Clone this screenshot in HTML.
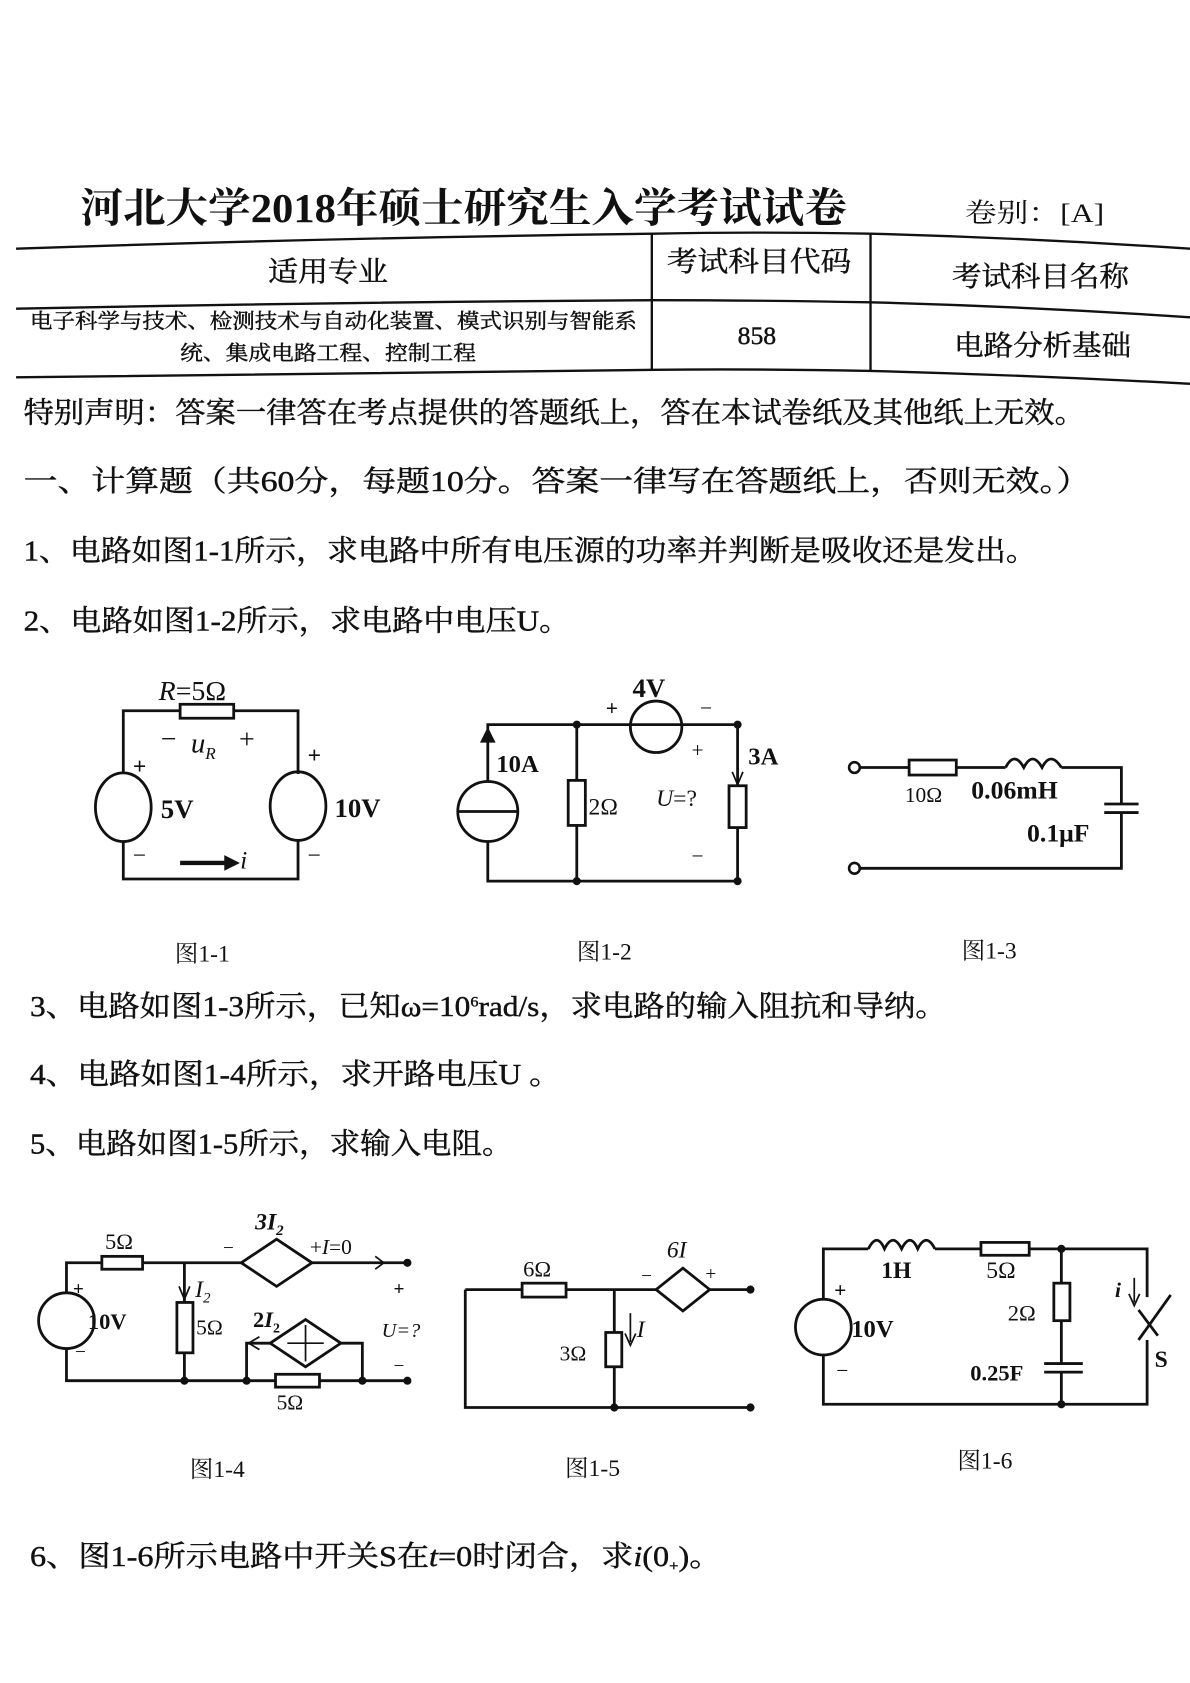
<!DOCTYPE html>
<html><head><meta charset="utf-8"><style>
html,body{margin:0;padding:0;background:#fff;}
svg{display:block;}
text{font-family:"Liberation Serif","Noto Serif CJK SC",serif;fill:#111;}
.b{font-weight:bold;}
.t{stroke:#111;stroke-width:0.4;}
</style></head><body>
<svg width="1190" height="1683" viewBox="0 0 1110 1570" preserveAspectRatio="none" xmlns="http://www.w3.org/2000/svg">
<rect width="1110" height="1570" fill="#fff"/>
<g stroke="#111" fill="none" stroke-width="2.2">
<path d="M15 232 Q300 222 610 218 Q700 216 812 218 Q960 222 1110 232"/>
<path d="M15 288 Q300 282 610 280 Q700 280 812 282 Q960 286 1110 296"/>
<path d="M15 352 Q300 348 610 345 Q700 344 812 346 Q960 350 1110 358"/>
<line x1="608" y1="218" x2="608" y2="346"/>
<line x1="812" y1="218" x2="812" y2="346"/>
</g>
<text x="75" y="207" font-size="38" class="b" textLength="715" lengthAdjust="spacingAndGlyphs">河北大学2018年硕士研究生入学考试试卷</text>
<text x="900" y="207" font-size="25" textLength="130" lengthAdjust="spacingAndGlyphs">卷别：[A]</text>
<text x="250" y="262" font-size="26" class="t" textLength="112" lengthAdjust="spacingAndGlyphs">适用专业</text>
<text x="622" y="253" font-size="26" class="t" textLength="172" lengthAdjust="spacingAndGlyphs">考试科目代码</text>
<text x="888" y="267" font-size="26" class="t" textLength="165" lengthAdjust="spacingAndGlyphs">考试科目名称</text>
<text x="28" y="306" font-size="19" class="t" textLength="566" lengthAdjust="spacingAndGlyphs">电子科学与技术、检测技术与自动化装置、模式识别与智能系</text>
<text x="168" y="336" font-size="19" class="t" textLength="276" lengthAdjust="spacingAndGlyphs">统、集成电路工程、控制工程</text>
<text x="688" y="321" font-size="24" class="t">858</text>
<text x="890" y="331" font-size="26" class="t" textLength="165" lengthAdjust="spacingAndGlyphs">电路分析基础</text>

<text x="22" y="394" font-size="27" class="t" textLength="990" lengthAdjust="spacingAndGlyphs">特别声明：答案一律答在考点提供的答题纸上，答在本试卷纸及其他纸上无效。</text>
<text x="22" y="458" font-size="27" class="t" textLength="995" lengthAdjust="spacingAndGlyphs">一、计算题（共60分，每题10分。答案一律写在答题纸上，否则无效。）</text>
<text x="22" y="523" font-size="27" class="t" textLength="945" lengthAdjust="spacingAndGlyphs">1、电路如图1-1所示，求电路中所有电压源的功率并判断是吸收还是发出。</text>
<text x="22" y="588" font-size="27" class="t" textLength="510" lengthAdjust="spacingAndGlyphs">2、电路如图1-2所示，求电路中电压U。</text>
<text x="28" y="948" font-size="27" class="t" textLength="855" lengthAdjust="spacingAndGlyphs">3、电路如图1-3所示，已知ω=10<tspan dy="-9" font-size="14">6</tspan><tspan dy="9">rad/s，求电路的输入阻抗和导纳。</tspan></text>
<text x="28" y="1011" font-size="27" class="t" textLength="495" lengthAdjust="spacingAndGlyphs">4、电路如图1-4所示，求开路电压U 。</text>
<text x="28" y="1076" font-size="27" class="t" textLength="450" lengthAdjust="spacingAndGlyphs">5、电路如图1-5所示，求输入电阻。</text>
<text x="28" y="1461" font-size="27" class="t" textLength="645" lengthAdjust="spacingAndGlyphs">6、图1-6所示电路中开关S在<tspan font-style="italic">t</tspan>=0时闭合，求<tspan font-style="italic">i</tspan>(0<tspan font-size="14" dy="4">+</tspan><tspan dy="-4">)。</tspan></text>

<text x="163" y="897" font-size="22">图1-1</text>
<text x="538" y="895" font-size="22">图1-2</text>
<text x="897" y="894" font-size="22">图1-3</text>
<text x="177" y="1378" font-size="22">图1-4</text>
<text x="527" y="1377" font-size="22">图1-5</text>
<text x="893" y="1370" font-size="22">图1-6</text>

<g stroke="#111" fill="none" stroke-width="2.6">
<path d="M115 722 V663 H168 M218 663 H278 V722 M278 785 V820 H115 V785"/>
<rect x="168" y="657" width="50" height="13" fill="#fff"/>
<ellipse cx="115" cy="753" rx="26" ry="32"/>
<ellipse cx="278" cy="752" rx="26" ry="32"/>
<line x1="168" y1="805" x2="210" y2="805" stroke-width="4"/>
<path d="M455 730 V676 H588 M636 676 H688 V733 M688 772 V822 H455 V785 M538 676 V728 M538 770 V822"/>
<circle cx="455" cy="757" r="28"/>
<line x1="427" y1="757" x2="483" y2="757"/>
<circle cx="612" cy="678" r="24"/>
<line x1="588" y1="676" x2="636" y2="676"/>
<rect x="530" y="728" width="16" height="42" fill="#fff"/>
<rect x="680" y="733" width="16" height="39" fill="#fff"/>
<line x1="455" y1="720" x2="455" y2="690" stroke-width="1.5"/>
<path d="M802 716 H848 M892 716 H938 M990 716 H1046 V750 M1046 757 V810 H802"/>
<rect x="848" y="709" width="44" height="14" fill="#fff"/>
<path d="M938 716 q8 -16 17 0 q8 -16 17 0 q8 -16 18 0"/>
<line x1="1030" y1="750" x2="1062" y2="750"/>
<line x1="1030" y1="758" x2="1062" y2="758"/>
<path d="M62 1206 V1178 H95 M133 1178 H225 M291 1178 H380 M62 1258 V1288 H257 M298 1288 H380 M172 1178 V1215 M172 1262 V1288 M252 1253 H230 V1288 M318 1253 H338 V1288"/>
<circle cx="62" cy="1232" r="26"/>
<rect x="95" y="1172" width="38" height="12" fill="#fff"/>
<rect x="165" y="1215" width="15" height="47" fill="#fff"/>
<rect x="257" y="1282" width="41" height="12" fill="#fff"/>
<path d="M225 1178 L258 1156 L291 1178 L258 1200 Z"/>
<path d="M252 1253 L285 1231 L318 1253 L285 1275 Z"/>
<line x1="285" y1="1236" x2="285" y2="1270" stroke-width="1.6"/>
<line x1="268" y1="1253" x2="302" y2="1253" stroke-width="1.6"/>
<path d="M434 1203 H487 M528 1203 H612 M662 1203 H700 M434 1203 V1313 H700 M573 1203 V1243 M573 1275 V1313"/>
<rect x="487" y="1197" width="41" height="13" fill="#fff"/>
<rect x="565" y="1243" width="15" height="32" fill="#fff"/>
<path d="M612 1203 L637 1183 L662 1203 L637 1223 Z"/>
<path d="M768 1212 V1165 H810 M872 1165 H915 M960 1165 H1070 V1210 M1070 1250 V1310 H768 V1264 M990 1165 V1197 M990 1232 V1272 M990 1280 V1310"/>
<circle cx="768" cy="1238" r="26"/>
<path d="M810 1165 q8 -16 15 0 q8 -16 16 0 q8 -16 15 0 q8 -16 16 0"/>
<rect x="915" y="1159" width="45" height="12" fill="#fff"/>
<rect x="983" y="1197" width="15" height="35" fill="#fff"/>
<line x1="974" y1="1272" x2="1010" y2="1272"/>
<line x1="974" y1="1280" x2="1010" y2="1280"/>
<line x1="1062" y1="1250" x2="1092" y2="1208"/>
<line x1="1062" y1="1222" x2="1080" y2="1246"/>
</g>
<g stroke="#111" stroke-width="1.6" fill="#111">
<path d="M210 799 L222 805 L210 811 Z"/>
<path d="M449 692 L455 680 L461 692 Z"/>
<line x1="688" y1="700" x2="688" y2="728"/><path d="M683 720 L688 732 L693 720" fill="none"/>
<path d="M167 1200 L172 1212 L177 1200" fill="none"/>
<path d="M350 1172 L358 1178 L350 1184" fill="none"/>
<path d="M242 1247 L232 1253 L242 1259" fill="none"/>
<line x1="588" y1="1225" x2="588" y2="1252"/><path d="M583 1244 L588 1255 L593 1244" fill="none"/>
<line x1="1058" y1="1192" x2="1058" y2="1215"/><path d="M1053 1207 L1058 1218 L1063 1207" fill="none"/>
<circle cx="538" cy="676" r="3"/><circle cx="688" cy="676" r="3"/><circle cx="538" cy="822" r="3"/><circle cx="688" cy="822" r="3"/>
<circle cx="380" cy="1178" r="3"/><circle cx="380" cy="1288" r="3"/><circle cx="172" cy="1288" r="3"/><circle cx="230" cy="1288" r="3"/><circle cx="338" cy="1288" r="3"/>
<circle cx="700" cy="1203" r="3"/><circle cx="700" cy="1313" r="3"/><circle cx="573" cy="1313" r="3"/>
<circle cx="990" cy="1165" r="3"/><circle cx="990" cy="1310" r="3"/>
</g>
<circle cx="797" cy="716" r="5" fill="#fff" stroke="#111" stroke-width="2.4"/>
<circle cx="797" cy="810" r="5" fill="#fff" stroke="#111" stroke-width="2.4"/>

<text x="148" y="653" font-size="26"><tspan font-style="italic">R</tspan>=5Ω</text>
<text x="150" y="698" font-size="26">−</text>
<text x="178" y="702" font-size="27" font-style="italic">u<tspan font-size="16" dy="6">R</tspan></text>
<text x="223" y="698" font-size="26">+</text>
<text x="124" y="722" font-size="22" class="b">+</text>
<text x="150" y="763" font-size="25" class="b">5V</text>
<text x="124" y="805" font-size="22">−</text>
<text x="287" y="712" font-size="22" class="b">+</text>
<text x="312" y="762" font-size="25" class="b">10V</text>
<text x="287" y="805" font-size="22">−</text>
<text x="224" y="810" font-size="24" font-style="italic">i</text>
<text x="590" y="650" font-size="25" class="b">4V</text>
<text x="565" y="667" font-size="20" class="b">+</text>
<text x="653" y="667" font-size="20">−</text>
<text x="645" y="706" font-size="20">+</text>
<text x="463" y="720" font-size="23" class="b">10A</text>
<text x="698" y="713" font-size="23" class="b">3A</text>
<text x="549" y="760" font-size="22">2Ω</text>
<text x="612" y="752" font-size="22"><tspan font-style="italic">U</tspan>=?</text>
<text x="645" y="805" font-size="20">−</text>
<text x="844" y="748" font-size="20">10Ω</text>
<text x="906" y="745" font-size="24" class="b">0.06mH</text>
<text x="958" y="785" font-size="24" class="b">0.1μF</text>
<text x="98" y="1165" font-size="21">5Ω</text>
<text x="238" y="1147" font-size="22" class="b" font-style="italic">3I<tspan font-size="14" dy="5">2</tspan></text>
<text x="208" y="1170" font-size="18">−</text>
<text x="289" y="1170" font-size="20">+<tspan font-style="italic">I</tspan>=0</text>
<text x="182" y="1210" font-size="22" font-style="italic">I<tspan font-size="14" dy="5">2</tspan></text>
<text x="183" y="1245" font-size="20">5Ω</text>
<text x="236" y="1238" font-size="21" class="b">2<tspan font-style="italic">I</tspan><tspan font-size="13" dy="5">2</tspan></text>
<text x="68" y="1208" font-size="18" class="b">+</text>
<text x="82" y="1240" font-size="21" class="b">10V</text>
<text x="70" y="1267" font-size="18">−</text>
<text x="367" y="1208" font-size="18" class="b">+</text>
<text x="356" y="1247" font-size="19" font-style="italic">U=?</text>
<text x="367" y="1280" font-size="18">−</text>
<text x="258" y="1315" font-size="20">5Ω</text>
<text x="488" y="1191" font-size="21">6Ω</text>
<text x="622" y="1173" font-size="22" font-style="italic">6I</text>
<text x="598" y="1196" font-size="18">−</text>
<text x="658" y="1194" font-size="18">+</text>
<text x="594" y="1247" font-size="22" font-style="italic">I</text>
<text x="522" y="1269" font-size="20">3Ω</text>
<text x="822" y="1192" font-size="22" class="b">1H</text>
<text x="920" y="1192" font-size="22">5Ω</text>
<text x="940" y="1232" font-size="21">2Ω</text>
<text x="905" y="1288" font-size="21" class="b">0.25F</text>
<text x="778" y="1210" font-size="20" class="b">+</text>
<text x="794" y="1247" font-size="23" class="b">10V</text>
<text x="780" y="1285" font-size="20">−</text>
<text x="1040" y="1210" font-size="20" class="b" font-style="italic">i</text>
<text x="1077" y="1275" font-size="22" class="b">S</text>
</svg>
</body></html>
